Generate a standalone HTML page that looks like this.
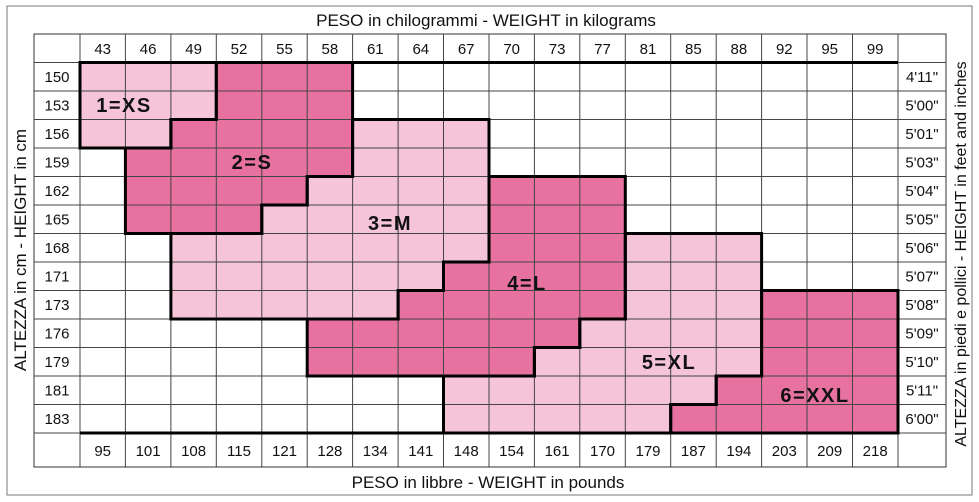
<!DOCTYPE html>
<html><head><meta charset="utf-8"><style>
html,body{margin:0;padding:0;background:#fff}
svg{display:block}
text{font-family:"Liberation Sans",sans-serif;fill:#111}
.h{font-size:15px;text-anchor:middle}
.t{font-size:17px;text-anchor:middle}
.lab{font-size:20px;font-weight:bold;text-anchor:middle;letter-spacing:1.5px}
</style></head><body>
<svg width="979" height="502" viewBox="0 0 979 502" xmlns="http://www.w3.org/2000/svg">
<rect x="7" y="6" width="965" height="489" fill="#fff" stroke="#777" stroke-width="1"/>
<rect x="34" y="34" width="912" height="433" fill="#fff" stroke="#333" stroke-width="1"/>
<g stroke="none">
<polygon fill="#f5c4d8" points="80,62.5 216.3,62.5 216.3,119.5 170.9,119.5 170.9,148 80,148"/>
<polygon fill="#e8729f" points="216.3,62.5 352.6,62.5 352.6,176.5 307.2,176.5 307.2,205 261.8,205 261.8,233.5 125.4,233.5 125.4,148 170.9,148 170.9,119.5 216.3,119.5"/>
<polygon fill="#f5c4d8" points="352.6,119.5 489,119.5 489,262 443.5,262 443.5,290.5 398.1,290.5 398.1,319 170.9,319 170.9,233.5 261.8,233.5 261.8,205 307.2,205 307.2,176.5 352.6,176.5"/>
<polygon fill="#e8729f" points="489,176.5 625.3,176.5 625.3,319 579.8,319 579.8,347.5 534.4,347.5 534.4,376 307.2,376 307.2,319 398.1,319 398.1,290.5 443.5,290.5 443.5,262 489,262"/>
<polygon fill="#f5c4d8" points="625.3,233.5 761.6,233.5 761.6,376 716.2,376 716.2,404.5 670.7,404.5 670.7,433 443.5,433 443.5,376 534.4,376 534.4,347.5 579.8,347.5 579.8,319 625.3,319"/>
<polygon fill="#e8729f" points="761.6,290.5 898,290.5 898,433 670.7,433 670.7,404.5 716.2,404.5 716.2,376 761.6,376"/>
</g>
<g stroke="#444" stroke-width="1">
<line x1="80" y1="34" x2="80" y2="467"/><line x1="125.4" y1="34" x2="125.4" y2="467"/><line x1="170.9" y1="34" x2="170.9" y2="467"/><line x1="216.3" y1="34" x2="216.3" y2="467"/><line x1="261.8" y1="34" x2="261.8" y2="467"/><line x1="307.2" y1="34" x2="307.2" y2="467"/><line x1="352.6" y1="34" x2="352.6" y2="467"/><line x1="398.1" y1="34" x2="398.1" y2="467"/><line x1="443.5" y1="34" x2="443.5" y2="467"/><line x1="489" y1="34" x2="489" y2="467"/><line x1="534.4" y1="34" x2="534.4" y2="467"/><line x1="579.8" y1="34" x2="579.8" y2="467"/><line x1="625.3" y1="34" x2="625.3" y2="467"/><line x1="670.7" y1="34" x2="670.7" y2="467"/><line x1="716.2" y1="34" x2="716.2" y2="467"/><line x1="761.6" y1="34" x2="761.6" y2="467"/><line x1="807" y1="34" x2="807" y2="467"/><line x1="852.5" y1="34" x2="852.5" y2="467"/><line x1="898" y1="34" x2="898" y2="467"/>
<line x1="34" y1="91" x2="946" y2="91"/><line x1="34" y1="119.5" x2="946" y2="119.5"/><line x1="34" y1="148" x2="946" y2="148"/><line x1="34" y1="176.5" x2="946" y2="176.5"/><line x1="34" y1="205" x2="946" y2="205"/><line x1="34" y1="233.5" x2="946" y2="233.5"/><line x1="34" y1="262" x2="946" y2="262"/><line x1="34" y1="290.5" x2="946" y2="290.5"/><line x1="34" y1="319" x2="946" y2="319"/><line x1="34" y1="347.5" x2="946" y2="347.5"/><line x1="34" y1="376" x2="946" y2="376"/><line x1="34" y1="404.5" x2="946" y2="404.5"/>
<line x1="34" y1="62.5" x2="946" y2="62.5"/><line x1="34" y1="433" x2="946" y2="433"/>
</g>
<g fill="none" stroke="#000" stroke-width="3" stroke-linejoin="miter">
<line x1="80" y1="62.5" x2="898" y2="62.5"/><line x1="80" y1="433" x2="898" y2="433"/>
<polygon points="80,62.5 216.3,62.5 216.3,119.5 170.9,119.5 170.9,148 80,148"/>
<polygon points="216.3,62.5 352.6,62.5 352.6,176.5 307.2,176.5 307.2,205 261.8,205 261.8,233.5 125.4,233.5 125.4,148 170.9,148 170.9,119.5 216.3,119.5"/>
<polygon points="352.6,119.5 489,119.5 489,262 443.5,262 443.5,290.5 398.1,290.5 398.1,319 170.9,319 170.9,233.5 261.8,233.5 261.8,205 307.2,205 307.2,176.5 352.6,176.5"/>
<polygon points="489,176.5 625.3,176.5 625.3,319 579.8,319 579.8,347.5 534.4,347.5 534.4,376 307.2,376 307.2,319 398.1,319 398.1,290.5 443.5,290.5 443.5,262 489,262"/>
<polygon points="625.3,233.5 761.6,233.5 761.6,376 716.2,376 716.2,404.5 670.7,404.5 670.7,433 443.5,433 443.5,376 534.4,376 534.4,347.5 579.8,347.5 579.8,319 625.3,319"/>
<polygon points="761.6,290.5 898,290.5 898,433 670.7,433 670.7,404.5 716.2,404.5 716.2,376 761.6,376"/>
</g>
<g>
<text class="h" x="102.7" y="54">43</text><text class="h" x="148.1" y="54">46</text><text class="h" x="193.6" y="54">49</text><text class="h" x="239" y="54">52</text><text class="h" x="284.5" y="54">55</text><text class="h" x="329.9" y="54">58</text><text class="h" x="375.3" y="54">61</text><text class="h" x="420.8" y="54">64</text><text class="h" x="466.2" y="54">67</text><text class="h" x="511.7" y="54">70</text><text class="h" x="557.1" y="54">73</text><text class="h" x="602.5" y="54">77</text><text class="h" x="648" y="54">81</text><text class="h" x="693.4" y="54">85</text><text class="h" x="738.9" y="54">88</text><text class="h" x="784.3" y="54">92</text><text class="h" x="829.7" y="54">95</text><text class="h" x="875.2" y="54">99</text>
<text class="h" x="102.7" y="456">95</text><text class="h" x="148.1" y="456">101</text><text class="h" x="193.6" y="456">108</text><text class="h" x="239" y="456">115</text><text class="h" x="284.5" y="456">121</text><text class="h" x="329.9" y="456">128</text><text class="h" x="375.3" y="456">134</text><text class="h" x="420.8" y="456">141</text><text class="h" x="466.2" y="456">148</text><text class="h" x="511.7" y="456">154</text><text class="h" x="557.1" y="456">161</text><text class="h" x="602.5" y="456">170</text><text class="h" x="648" y="456">179</text><text class="h" x="693.4" y="456">187</text><text class="h" x="738.9" y="456">194</text><text class="h" x="784.3" y="456">203</text><text class="h" x="829.7" y="456">209</text><text class="h" x="875.2" y="456">218</text>
<text class="h" x="57" y="82">150</text><text class="h" x="57" y="110.5">153</text><text class="h" x="57" y="139">156</text><text class="h" x="57" y="167.5">159</text><text class="h" x="57" y="196">162</text><text class="h" x="57" y="224.5">165</text><text class="h" x="57" y="253">168</text><text class="h" x="57" y="281.5">171</text><text class="h" x="57" y="310">173</text><text class="h" x="57" y="338.5">176</text><text class="h" x="57" y="367">179</text><text class="h" x="57" y="395.5">181</text><text class="h" x="57" y="424">183</text>
<text class="h" x="922" y="82">4'11"</text><text class="h" x="922" y="110.5">5'00"</text><text class="h" x="922" y="139">5'01"</text><text class="h" x="922" y="167.5">5'03"</text><text class="h" x="922" y="196">5'04"</text><text class="h" x="922" y="224.5">5'05"</text><text class="h" x="922" y="253">5'06"</text><text class="h" x="922" y="281.5">5'07"</text><text class="h" x="922" y="310">5'08"</text><text class="h" x="922" y="338.5">5'09"</text><text class="h" x="922" y="367">5'10"</text><text class="h" x="922" y="395.5">5'11"</text><text class="h" x="922" y="424">6'00"</text>
</g>
<text class="t" x="486" y="26">PESO in chilogrammi -  WEIGHT in kilograms</text>
<text class="t" x="488" y="488">PESO in libbre -  WEIGHT in pounds</text>
<text class="t" transform="translate(26,250) rotate(-90)">ALTEZZA in cm  -  HEIGHT in cm</text>
<text class="t" transform="translate(966,254) rotate(-90)" style="font-size:16px">ALTEZZA in piedi e pollici - HEIGHT in feet and inches</text>
<text class="lab" x="124" y="112">1=XS</text>
<text class="lab" x="252" y="169">2=S</text>
<text class="lab" x="390" y="230">3=M</text>
<text class="lab" x="527" y="290">4=L</text>
<text class="lab" x="669" y="369">5=XL</text>
<text class="lab" x="815" y="402">6=XXL</text>
</svg>
</body></html>
